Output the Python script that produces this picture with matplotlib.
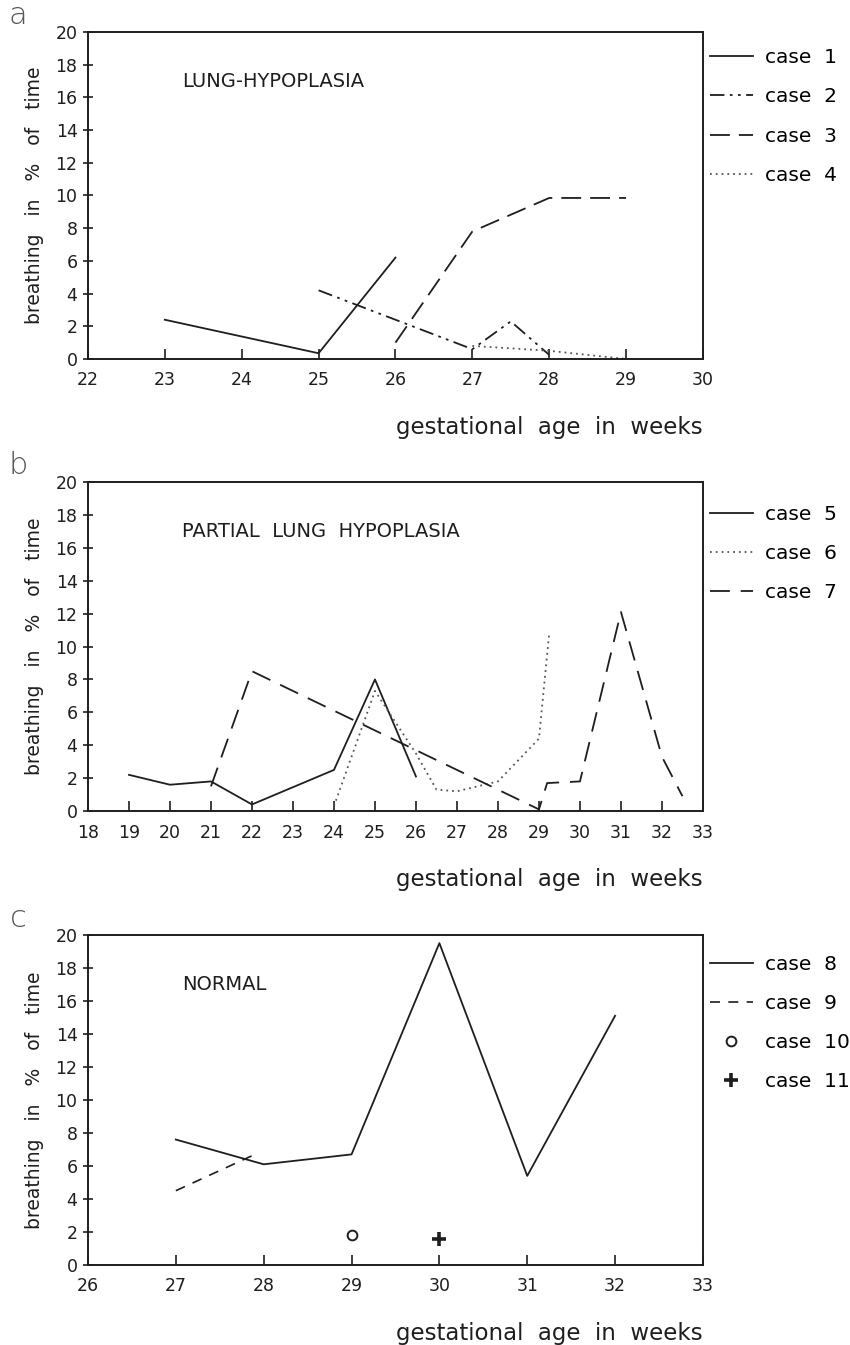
import matplotlib
matplotlib.use("Agg")
import matplotlib.pyplot as plt

# ---- data ----
# a: lung hypoplasia
c1_x = [23, 25, 26]
c1_y = [2.4, 0.35, 6.2]
c2_x = [25, 27, 27.5, 28]
c2_y = [4.2, 0.6, 2.3, 0.25]
c3_x = [26, 27, 28, 29]
c3_y = [1.0, 7.8, 9.85, 9.85]
c4_x = [27, 28, 28.6, 29]
c4_y = [0.8, 0.5, 0.2, 0.0]

# b: partial lung hypoplasia
c5_x = [19, 20, 21, 22, 24, 25, 26]
c5_y = [2.2, 1.6, 1.8, 0.4, 2.5, 8.0, 2.1]
c6_x = [24, 25, 26, 26.5, 27, 28, 29, 29.25]
c6_y = [0.3, 7.3, 3.5, 1.3, 1.2, 1.8, 4.4, 10.8]
c7_x = [21, 22, 29, 29.2, 30, 31, 32, 32.5]
c7_y = [1.5, 8.5, 0.1, 1.7, 1.8, 12.1, 3.3, 0.9]

# c: normal
c8_x = [27, 28, 29, 30, 31, 32]
c8_y = [7.6, 6.1, 6.7, 19.5, 5.4, 15.1]
c9_x = [27, 27.9]
c9_y = [4.5, 6.7]
c10_x = [29]
c10_y = [1.8]
c11_x = [30]
c11_y = [1.6]

xlims = [(22, 30), (18, 33), (26, 33)]
titles = ["LUNG-HYPOPLASIA", "PARTIAL  LUNG  HYPOPLASIA", "NORMAL"]
letters = ["a", "b", "c"]

ink = "#1e1e1e"
plt.rcParams["font.family"] = "DejaVu Sans"

fig = plt.figure(figsize=(8.5, 13.45), dpi=100)
ax_a = fig.add_axes([0.1035, 0.7331, 0.7235, 0.2431])
ax_b = fig.add_axes([0.1035, 0.3970, 0.7235, 0.2446])
ax_c = fig.add_axes([0.1035, 0.0595, 0.7235, 0.2454])
axes = [ax_a, ax_b, ax_c]

# panel a
ax_a.plot(c1_x, c1_y, color=ink, lw=1.3, label="case  1")
ax_a.plot(c2_x, c2_y, color=ink, lw=1.3, dashes=(8, 3, 1.5, 3, 1.5, 3), label="case  2")
ax_a.plot(c3_x, c3_y, color=ink, lw=1.3, dashes=(11, 5), label="case  3")
ax_a.plot(c4_x, c4_y, color="#555555", lw=1.3, dashes=(1, 2.2), label="case  4")

# panel b
ax_b.plot(c5_x, c5_y, color=ink, lw=1.3, label="case  5")
ax_b.plot(c6_x, c6_y, color="#555555", lw=1.3, dashes=(1, 2.2), label="case  6")
ax_b.plot(c7_x, c7_y, color=ink, lw=1.3, dashes=(11, 6), label="case  7")

# panel c
ax_c.plot(c8_x, c8_y, color=ink, lw=1.3, label="case  8")
ax_c.plot(c9_x, c9_y, color=ink, lw=1.2, dashes=(6, 5), label="case  9")
ax_c.plot(c10_x, c10_y, linestyle="none", marker="o", ms=7, mfc="white",
          mec=ink, mew=1.4, label="case  10")
ax_c.plot(c11_x, c11_y, linestyle="none", marker="+", ms=10, mec=ink,
          mew=2.6, label="case  11")

legend_tops = [0.95, 0.93, 0.94]
for ax, xl, title, letter, ltop in zip(axes, xlims, titles, letters, legend_tops):
    ax.set_xlim(*xl)
    ax.set_ylim(0, 20)
    ax.set_xticks(range(xl[0], xl[1] + 1))
    ax.set_yticks(range(0, 21, 2))
    ax.tick_params(axis="x", direction="in", length=7, width=1.2, pad=9,
                   labelsize=12.5, colors=ink)
    ax.tick_params(axis="y", direction="inout", length=7, width=1.2, pad=4,
                   labelsize=12.5, colors=ink)
    for s in ax.spines.values():
        s.set_linewidth(1.4)
        s.set_color(ink)
    ax.text(0.153, 0.85, title, transform=ax.transAxes, fontsize=14,
            ha="left", va="center", color=ink)
    ax.set_ylabel("breathing   in   %   of   time", fontsize=13.5, color=ink,
                  labelpad=8)
    ax.set_xlabel("gestational  age  in  weeks", fontsize=16.5, color=ink,
                  loc="right", labelpad=19)
    ax.legend(loc="upper left", bbox_to_anchor=(1.012, ltop), frameon=False,
              fontsize=14.5, handlelength=2.1, handletextpad=0.6,
              labelspacing=1.0, borderpad=0, borderaxespad=0)
    bb = ax.get_position()
    fig.text(0.021, bb.y1 + 0.012, letter, fontsize=22, color="#555555",
             ha="center", va="center", fontweight="light")

fig.savefig("out.png", dpi=100, facecolor="white")
